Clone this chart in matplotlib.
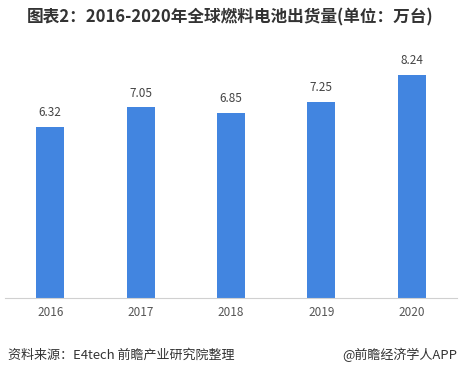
import matplotlib.pyplot as plt

years = ['2016', '2017', '2018', '2019', '2020']
shipments = [6.32, 7.05, 6.85, 7.25, 8.24]

plt.rcParams['font.family'] = ['Noto Sans CJK SC', 'DejaVu Sans']

fig = plt.figure(figsize=(4.6, 3.75), dpi=100)
ax = fig.add_axes([5 / 460, 1 - 297.5 / 375, 452 / 460, 243 / 375])

x = range(len(years))
ax.bar(x, shipments, width=0.31, color='#4285E0')
for i, v in zip(x, shipments):
    ax.text(i, v + 0.28, f'{v:.2f}', ha='center', va='bottom', fontsize=8.5, color='#444444')

ax.set_xlim(-0.5, 4.5)
ax.set_ylim(0, 9)
ax.set_xticks(list(x))
ax.set_xticklabels(years, fontsize=8.5, color='#555555')
ax.tick_params(axis='x', length=0, pad=6)
ax.set_yticks([])
for s in ['top', 'left', 'right']:
    ax.spines[s].set_visible(False)
ax.spines['bottom'].set_color('#D0D0D0')

fig.text(0.5, 1 - 17 / 375, '图表2：2016-2020年全球燃料电池出货量(单位：万台)',
         ha='center', va='center', fontsize=12, fontweight='bold', color='#333333')
fig.text(8 / 460, 1 - 355 / 375, '资料来源：E4tech 前瞻产业研究院整理',
         ha='left', va='center', fontsize=9.4, color='#333333')
fig.text(457 / 460, 1 - 355 / 375, '@前瞻经济学人APP',
         ha='right', va='center', fontsize=9.4, color='#333333')

fig.savefig('out.png', dpi=100)
